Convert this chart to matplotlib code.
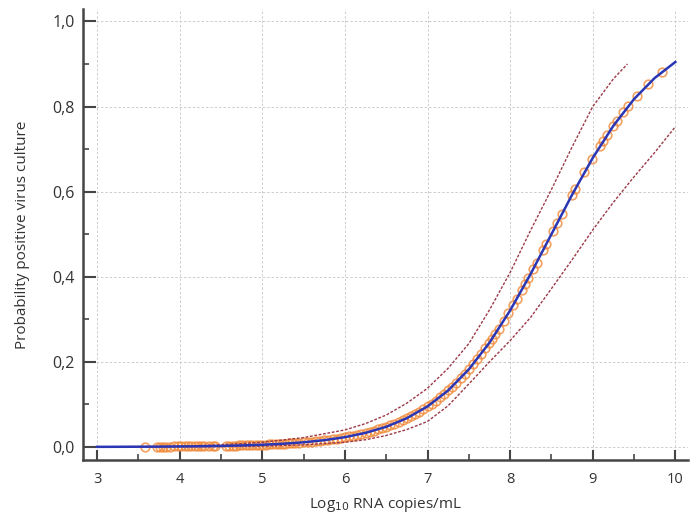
import matplotlib.pyplot as plt
from matplotlib.ticker import FuncFormatter, MultipleLocator

# fitted curve
curve_x = [3.0, 3.25, 3.5, 3.75, 4.0, 4.25, 4.5, 4.75, 5.0, 5.25, 5.5, 5.75,
           6.0, 6.25, 6.5, 6.75, 7.0, 7.25, 7.5, 7.75, 8.0, 8.25, 8.5, 8.75,
           9.0, 9.25, 9.5, 9.75, 10.0]
curve_y = [0.0003, 0.0004, 0.0006, 0.0008, 0.0012, 0.0017, 0.0025, 0.0036,
           0.0052, 0.0076, 0.0110, 0.0159, 0.0230, 0.0331, 0.0474, 0.0676,
           0.0953, 0.1329, 0.1824, 0.2451, 0.3208, 0.4073, 0.5000, 0.5927,
           0.6792, 0.7549, 0.8176, 0.8671, 0.9047]

# upper / lower confidence bands
upper_x = [3.0, 3.6, 4.0, 4.5, 5.0, 5.5, 6.0, 6.25, 6.5, 6.75, 7.0, 7.25, 7.5,
           7.75, 8.0, 8.25, 8.5, 8.75, 9.0, 9.25, 9.42]
upper_y = [0.0005, 0.001, 0.002, 0.005, 0.011, 0.022, 0.040, 0.055, 0.075,
           0.103, 0.138, 0.185, 0.243, 0.322, 0.410, 0.510, 0.605, 0.705,
           0.800, 0.865, 0.900]
lower_x = [3.0, 3.6, 4.0, 4.5, 5.0, 5.5, 6.0, 6.25, 6.5, 6.75, 7.0, 7.25, 7.5,
           7.75, 8.0, 8.25, 8.5, 8.75, 9.0, 9.25, 9.5, 9.75, 9.99]
lower_y = [0.0001, 0.0001, 0.0003, 0.0008, 0.002, 0.005, 0.011, 0.017, 0.027,
           0.041, 0.060, 0.097, 0.148, 0.200, 0.250, 0.305, 0.372, 0.440,
           0.510, 0.575, 0.635, 0.692, 0.750]

# observations (predicted probability at each sample)
obs_x = [3.58, 3.72, 3.76, 3.80, 3.84, 3.88, 3.93, 3.98, 4.02, 4.06, 4.10, 4.14,
         4.18, 4.22, 4.26, 4.30, 4.35, 4.40, 4.43, 4.56, 4.60, 4.64, 4.68, 4.72,
         4.76, 4.80, 4.84, 4.88, 4.92, 4.96, 5.00, 5.04, 5.08, 5.12, 5.16, 5.20,
         5.24, 5.28, 5.32, 5.36, 5.40, 5.45, 5.50, 5.55, 5.60, 5.65, 5.70, 5.75,
         5.80, 5.85, 5.90, 5.95, 6.00, 6.05, 6.10, 6.15, 6.20, 6.25, 6.30, 6.35,
         6.40, 6.45, 6.50, 6.55, 6.60, 6.65, 6.70, 6.75, 6.80, 6.85, 6.90, 6.95,
         7.00, 7.05, 7.10, 7.15, 7.20, 7.25, 7.30, 7.35, 7.40, 7.45, 7.50, 7.55,
         7.60, 7.65, 7.70, 7.75, 7.78, 7.82, 7.86, 7.92, 7.98, 8.04, 8.08, 8.14,
         8.18, 8.22, 8.28, 8.32, 8.40, 8.44, 8.52, 8.57, 8.63, 8.75, 8.79, 8.90,
         8.99, 9.09, 9.13, 9.17, 9.25, 9.29, 9.37, 9.43, 9.53, 9.67, 9.84]
obs_y = [0.0006, 0.0008, 0.0008, 0.0009, 0.0009, 0.0010, 0.0011, 0.0011, 0.0012,
         0.0013, 0.0014, 0.0015, 0.0015, 0.0016, 0.0017, 0.0018, 0.0020, 0.0021,
         0.0022, 0.0027, 0.0029, 0.0031, 0.0033, 0.0035, 0.0037, 0.0039, 0.0041,
         0.0044, 0.0047, 0.0049, 0.0052, 0.0056, 0.0059, 0.0063, 0.0067, 0.0071,
         0.0075, 0.0080, 0.0084, 0.0090, 0.0095, 0.0103, 0.0110, 0.0118, 0.0127,
         0.0137, 0.0147, 0.0159, 0.0171, 0.0184, 0.0198, 0.0214, 0.0230, 0.0247,
         0.0266, 0.0286, 0.0308, 0.0331, 0.0356, 0.0382, 0.0411, 0.0442, 0.0474,
         0.0509, 0.0547, 0.0587, 0.0630, 0.0676, 0.0724, 0.0776, 0.0832, 0.0891,
         0.0953, 0.1020, 0.1091, 0.1166, 0.1246, 0.1329, 0.1419, 0.1512, 0.1611,
         0.1715, 0.1824, 0.1938, 0.2058, 0.2184, 0.2315, 0.2451, 0.2535, 0.2650,
         0.2769, 0.2953, 0.3143, 0.3340, 0.3475, 0.3682, 0.3822, 0.3965, 0.4182,
         0.4329, 0.4626, 0.4775, 0.5075, 0.5262, 0.5486, 0.5927, 0.6071, 0.6457,
         0.6759, 0.7079, 0.7201, 0.7320, 0.7549, 0.7659, 0.7867, 0.8014, 0.8242,
         0.8526, 0.8818]

x_ticks = [3, 4, 5, 6, 7, 8, 9, 10]
y_ticks = [0.0, 0.2, 0.4, 0.6, 0.8, 1.0]

plt.rcParams['font.family'] = ['Open Sans', 'DejaVu Sans']

axis_col = '#454545'
grid_col = '#cdcdcd'
text_col = '#333333'

fig = plt.figure(figsize=(7, 5.19), dpi=100)
ax = fig.add_axes([0.1186, 0.1137, 0.8645, 0.868])

ax.plot(obs_x, obs_y, 'o', ms=6.2, mfc='none', mec='#f08a3a', mew=1.2,
        alpha=0.8, zorder=3)
ax.plot(upper_x, upper_y, color='#9c3848', lw=1.0, dashes=(2, 1.2), zorder=4)
ax.plot(lower_x, lower_y, color='#9c3848', lw=1.0, dashes=(2, 1.2), zorder=4)
ax.plot(curve_x, curve_y, color='#2b36b4', lw=1.8, zorder=5)

ax.set_xlim(2.83, 10.155)
ax.set_ylim(-0.0306, 1.028)

ax.set_xticks(x_ticks)
ax.set_yticks(y_ticks)
ax.xaxis.set_minor_locator(MultipleLocator(0.5))
ax.yaxis.set_minor_locator(MultipleLocator(0.1))
ax.yaxis.set_major_formatter(FuncFormatter(lambda v, p: '{:.1f}'.format(v).replace('.', ',')))

ax.grid(which='major', color=grid_col, linestyle=(0, (2.5, 2)), linewidth=0.7, zorder=0)

ax.spines['top'].set_visible(False)
ax.spines['right'].set_visible(False)
for s in ['left', 'bottom']:
    ax.spines[s].set_color(axis_col)
    ax.spines[s].set_linewidth(1.8)

ax.tick_params(axis='x', which='major', direction='in', length=7, width=1.5,
               colors=axis_col, labelsize=10.5, labelcolor=text_col, pad=9)
ax.tick_params(axis='y', which='major', direction='in', length=9, width=1.5,
               colors=axis_col, labelsize=11.5, labelcolor=text_col, pad=6)
ax.tick_params(axis='x', which='minor', direction='in', length=4, width=1.2, colors=axis_col)
ax.tick_params(axis='y', which='minor', direction='in', length=4.5, width=1.2, colors=axis_col)

ax.set_xlabel('Log$_{10}$ RNA copies/mL', fontsize=11, color=text_col)
ax.set_ylabel('Probability positive virus culture', fontsize=11, color=text_col)
ax.xaxis.set_label_coords(0.5, -0.08)
ax.yaxis.set_label_coords(-0.088, 0.5)

fig.savefig('out.png', dpi=100)
